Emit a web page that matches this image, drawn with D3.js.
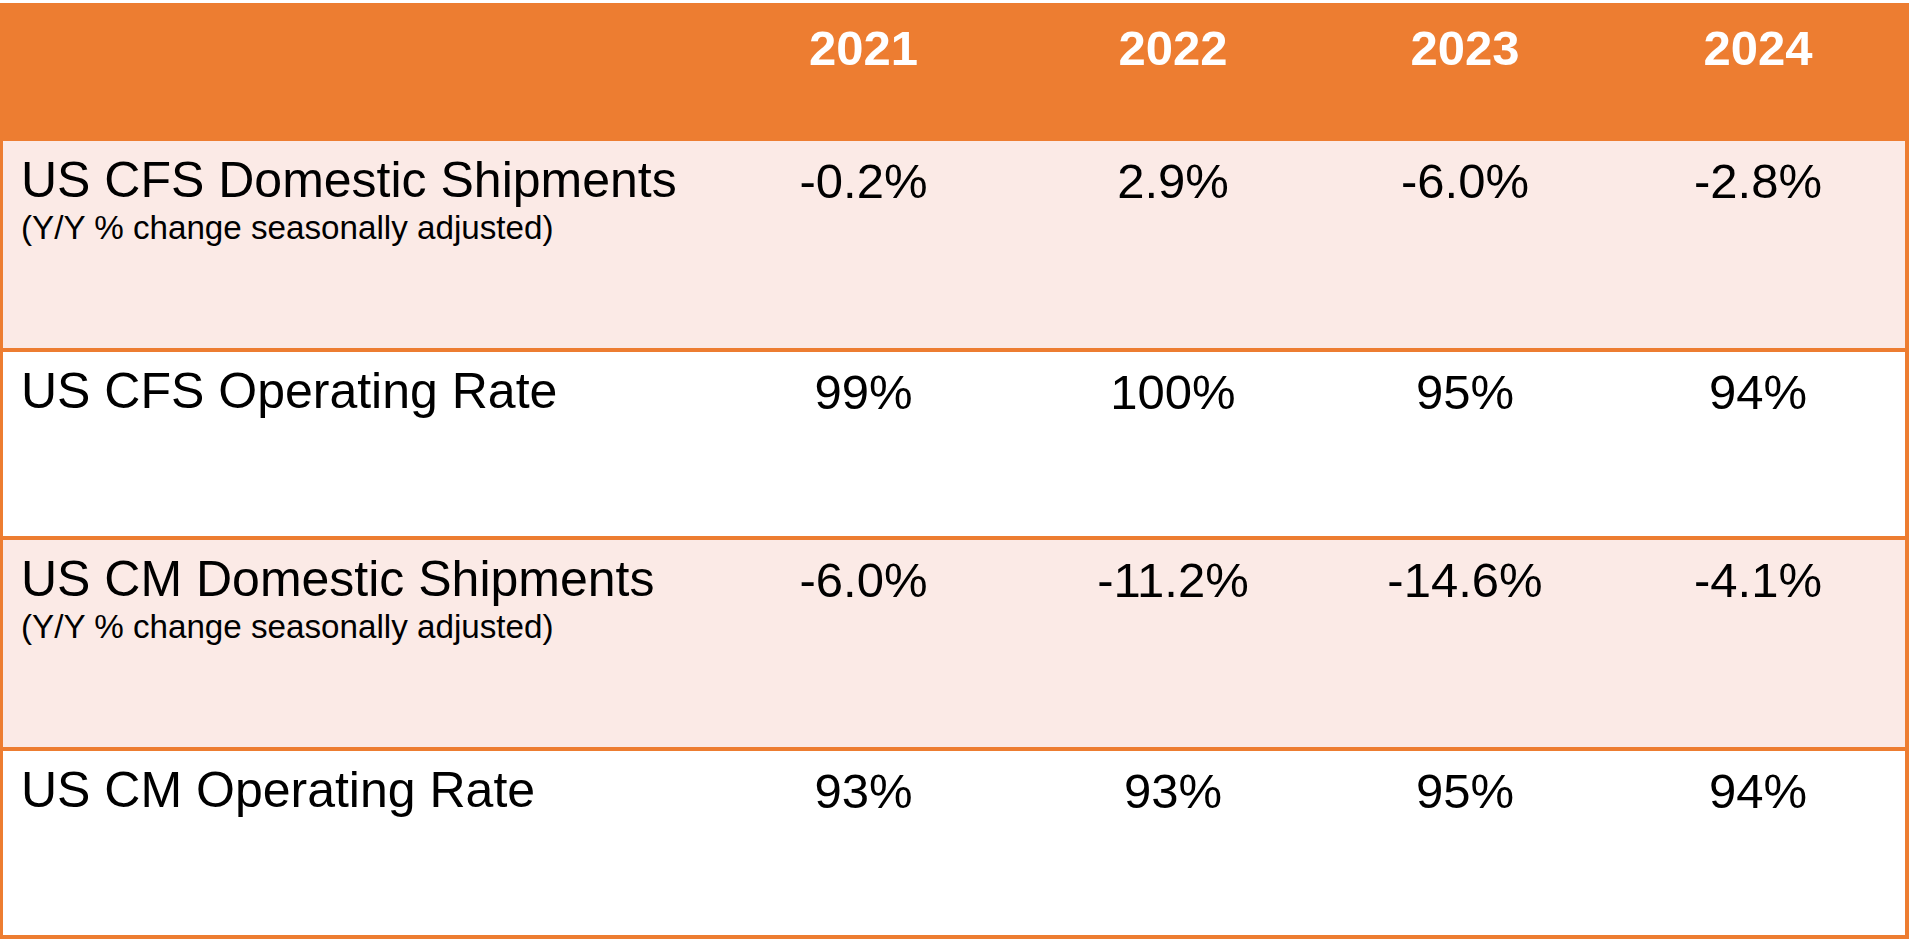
<!DOCTYPE html>
<html>
<head>
<meta charset="utf-8">
<script src="https://cdn.jsdelivr.net/npm/d3@7"></script>
<style>
  html, body { margin: 0; padding: 0; background: #ffffff; overflow: hidden; }
  svg { display: block; }
  text { font-family: "Liberation Sans", Arial, Helvetica, sans-serif; }
</style>
</head>
<body>
<div id="chart"></div>
<script>
// ---------------- DATA ----------------
const years = ["2021", "2022", "2023", "2024"];
const rowLabels = [
  "US CFS Domestic Shipments",
  "US CFS Operating Rate",
  "US CM Domestic Shipments",
  "US CM Operating Rate"
];
const rowNotes = [
  "(Y/Y % change seasonally adjusted)",
  "",
  "(Y/Y % change seasonally adjusted)",
  ""
];
const cfsDomesticShipments = [-0.2, 2.9, -6.0, -2.8];
const cfsOperatingRate = [99, 100, 95, 94];
const cmDomesticShipments = [-6.0, -11.2, -14.6, -4.1];
const cmOperatingRate = [93, 93, 95, 94];

// ---------------- LAYOUT ----------------
const W = 1909, H = 939;
const ORANGE = "#ED7D31";
const PINK = "#FBEAE6";
const colEdges = [700, 1027, 1319, 1611, 1905];   // value-column boundaries
const rowEdges = [139, 350, 538, 749, 937];        // body-row boundaries
const headerTop = 3;

const locale = d3.formatLocale({decimal: ".", thousands: ",", grouping: [3], currency: ["$", ""], minus: "-"});
const fmtPct1 = v => locale.format(".1f")(v) + "%";
const fmtPct0 = v => locale.format(".0f")(v) + "%";

const rows = [
  {label: rowLabels[0], note: rowNotes[0], values: cfsDomesticShipments, fmt: fmtPct1, fill: PINK},
  {label: rowLabels[1], note: rowNotes[1], values: cfsOperatingRate, fmt: fmtPct0, fill: "#ffffff"},
  {label: rowLabels[2], note: rowNotes[2], values: cmDomesticShipments, fmt: fmtPct1, fill: PINK},
  {label: rowLabels[3], note: rowNotes[3], values: cmOperatingRate, fmt: fmtPct0, fill: "#ffffff"}
];

// column center scale
const x = d3.scaleOrdinal()
  .domain(years)
  .range(years.map((d, i) => (colEdges[i] + colEdges[i + 1]) / 2));
// row top / bottom scales
const yTop = d3.scaleOrdinal().domain(rowLabels).range(rowEdges.slice(0, 4));
const yBot = d3.scaleOrdinal().domain(rowLabels).range(rowEdges.slice(1));

const svg = d3.select("#chart").append("svg")
  .attr("width", W).attr("height", H);

svg.append("rect").attr("x", 0).attr("y", 0).attr("width", W).attr("height", H).attr("fill", "#ffffff");

// header
svg.append("rect")
  .attr("x", 0).attr("y", headerTop)
  .attr("width", W).attr("height", rowEdges[0] - headerTop + 2)
  .attr("fill", ORANGE);

svg.append("g").selectAll("text").data(years).join("text")
  .attr("x", d => x(d))
  .attr("y", 65)
  .attr("text-anchor", "middle")
  .attr("font-size", 49)
  .attr("font-weight", "bold")
  .attr("fill", "#ffffff")
  .text(d => d);

// body rows
const g = svg.append("g").selectAll("g").data(rows).join("g");

g.append("rect")
  .attr("x", 0)
  .attr("y", d => yTop(d.label) + 2)
  .attr("width", W)
  .attr("height", d => yBot(d.label) - yTop(d.label) - 2)
  .attr("fill", d => d.fill);

g.append("text")
  .attr("x", 21)
  .attr("y", d => yTop(d.label) + 58)
  .attr("font-size", 50)
  .attr("fill", "#000000")
  .text(d => d.label);

g.filter(d => d.note).append("text")
  .attr("x", 21)
  .attr("y", d => yTop(d.label) + 100)
  .attr("font-size", 33.2)
  .attr("fill", "#000000")
  .text(d => d.note);

g.selectAll("text.val")
  .data(d => d.values.map((v, i) => ({v, year: years[i], fmt: d.fmt, top: yTop(d.label)})))
  .join("text")
  .attr("class", "val")
  .attr("x", d => x(d.year))
  .attr("y", d => d.top + 59)
  .attr("text-anchor", "middle")
  .attr("font-size", 49)
  .attr("fill", "#000000")
  .text(d => d.fmt(d.v));

// row separator lines
svg.append("g").selectAll("line").data(rowEdges.slice(1, 4)).join("line")
  .attr("x1", 0).attr("x2", W)
  .attr("y1", d => d).attr("y2", d => d)
  .attr("stroke", ORANGE).attr("stroke-width", 4);

// outer borders (left, right, bottom)
svg.append("line").attr("x1", 1.5).attr("x2", 1.5).attr("y1", headerTop).attr("y2", H)
  .attr("stroke", ORANGE).attr("stroke-width", 3);
svg.append("line").attr("x1", W - 2).attr("x2", W - 2).attr("y1", headerTop).attr("y2", H)
  .attr("stroke", ORANGE).attr("stroke-width", 4);
svg.append("line").attr("x1", 0).attr("x2", W).attr("y1", 937).attr("y2", 937)
  .attr("stroke", ORANGE).attr("stroke-width", 4);
</script>
</body>
</html>
